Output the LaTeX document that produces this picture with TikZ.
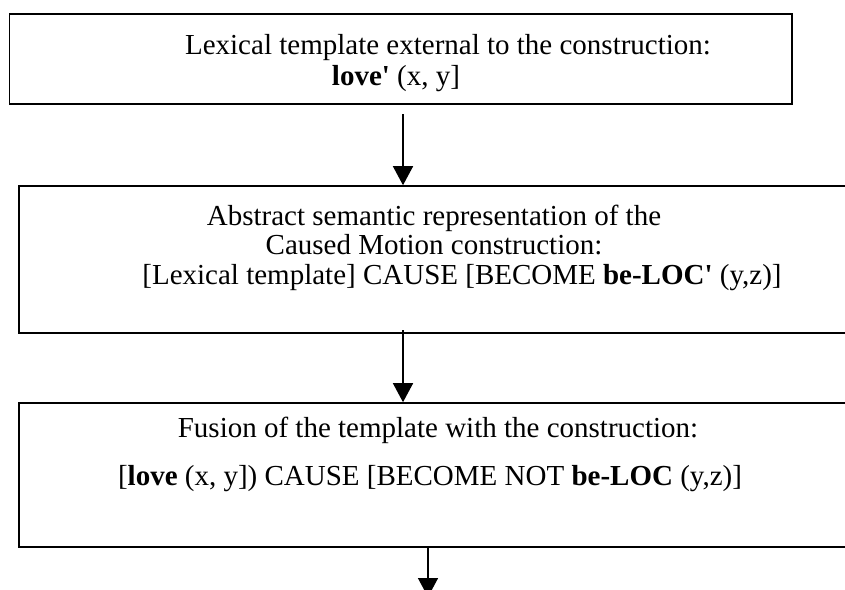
\documentclass[tikz,border=0pt]{standalone}
\usepackage{fontspec}
\setmainfont{Liberation Serif}
\usetikzlibrary{arrows.meta}

\tikzset{
  box/.style={draw=black, line width=1.6pt, inner sep=0pt, fill=white},
  txt/.style={font=\fontsize{29}{29}\selectfont, inner sep=0pt, anchor=base},
  arr/.style={draw=black, line width=1.5pt, -{Triangle[width=20pt,length=19pt]}}
}

\begin{document}
\begin{tikzpicture}[x=1pt, y=-1pt]
  \useasboundingbox (0,0) rectangle (845,589);
  \clip (0,0) rectangle (845,589);

  % the three stages
  \node[box, minimum width=782.5pt, minimum height=90pt] (b1) at (400.75,59) {};
  \node[box, minimum width=832pt, minimum height=147pt] (b2) at (435,259.5) {};
  \node[box, minimum width=832pt, minimum height=144pt] (b3) at (435,475) {};

  % stage 1
  \node[txt] (t11) at (448,54) {Lexical template external to the construction:};
  \node[txt] (t12) at (396,85) {\textbf{love\textquotesingle} (x, y]};

  % stage 2
  \node[txt] (t21) at (434,225) {Abstract semantic representation of the};
  \node[txt] (t22) at (434,254.5) {Caused Motion construction:};
  \node[txt] (t23) at (462,284) {[Lexical template] CAUSE [BECOME \textbf{be-LOC\textquotesingle} (y,z)]};

  % stage 3
  \node[txt] (t31) at (438,437) {Fusion of the template with the construction:};
  \node[txt] (t32) at (430,485.5) {[\textbf{love} (x, y]) CAUSE [BECOME NOT \textbf{be-LOC} (y,z)]};

  % connectors
  \coordinate (s1) at (403,114);
  \draw[arr] (s1) -- (s1 |- b2.north);
  \coordinate (s2) at (403,330);
  \draw[arr] (s2) -- (s2 |- b3.north);
  \coordinate (s3) at (428,547);
  \coordinate (e3) at (428,597);
  \draw[arr] (s3) -- (e3);
\end{tikzpicture}
\end{document}
